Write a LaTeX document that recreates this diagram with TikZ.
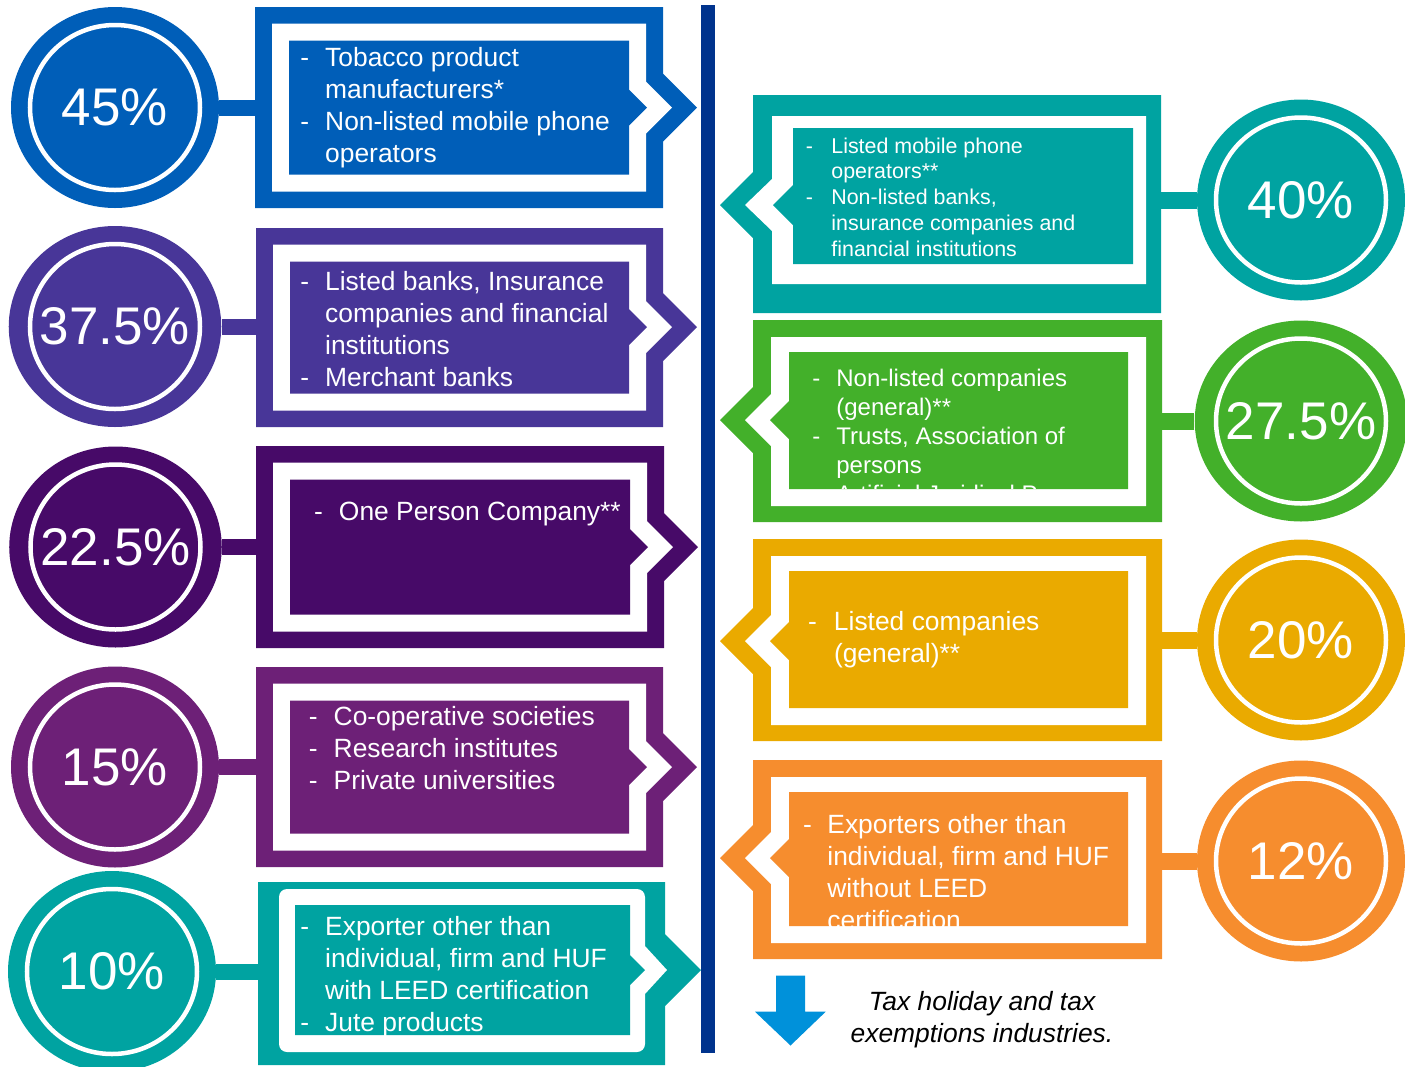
\documentclass[tikz,border=0pt]{standalone}
\usepackage{fontspec}
\setmainfont{Liberation Sans}
\usetikzlibrary{shapes.geometric}
\definecolor{kblue}{HTML}{005EB8}
\definecolor{kviolet}{HTML}{483698}
\definecolor{kpurple}{HTML}{470A68}
\definecolor{kmag}{HTML}{6D2077}
\definecolor{kteal}{HTML}{00A3A1}
\definecolor{kgreen}{HTML}{43B02A}
\definecolor{kyellow}{HTML}{EAAA00}
\definecolor{korange}{HTML}{F68D2E}
\definecolor{knavy}{HTML}{00338D}
\definecolor{klight}{HTML}{0091DA}
\tikzset{
  circ/.style={ellipse, fill=#1, minimum width=104pt, minimum height=100.5pt,
    inner sep=0pt, text=white, font=\fontsize{26.5}{30}\selectfont},
  ring/.style={draw=white, line width=2.25pt},
  bar/.style={draw=#1, line width=8pt},
  txt/.style={text=white, anchor=base west, inner sep=0pt,
    font=\fontsize{13.2}{16}\selectfont},
}
% left block: colour, L, T, R, B, chevron centre y
\newcommand\lblock[6]{%
  \fill[#1] (#2,#3) -- (#4,#3) -- (#4,#6-34) -- (#4+34,#6) -- (#4,#6+34) -- (#4,#5) -- (#2,#5) -- cycle;
  \fill[white] (#2+17,#3+16.5) -- (#4-17,#3+16.5) -- (#4-17,#6-26) -- (#4+9,#6) -- (#4-17,#6+26) -- (#4-17,#5-16.5) -- (#2+17,#5-16.5) -- cycle;
  \fill[#1] (#2+34,#3+33.5) -- (#4-34,#3+33.5) -- (#4-34,#6-18) -- (#4-16,#6) -- (#4-34,#6+18) -- (#4-34,#5-33.5) -- (#2+34,#5-33.5) -- cycle;
}
% right block: colour, L, T, R, B, chevron centre y
\newcommand\rblock[6]{%
  \fill[#1] (#2,#3) -- (#4,#3) -- (#4,#5) -- (#2,#5) -- (#2,#6+33) -- (#2-33,#6) -- (#2,#6-33) -- cycle;
  \fill[white] (#2+18,#3+17) -- (#4-16,#3+17) -- (#4-16,#5-16) -- (#2+18,#5-16) -- (#2+18,#6+26) -- (#2-8,#6) -- (#2+18,#6-26) -- cycle;
  \fill[#1] (#2+36,#3+32) -- (#4-34,#3+32) -- (#4-34,#5-33) -- (#2+36,#5-33) -- (#2+36,#6+19) -- (#2+17,#6) -- (#2+36,#6-19) -- cycle;
}
\newcommand\dashlist[2]{\begin{tabular}[t]{@{}p{#1}@{}l@{}}#2\end{tabular}}
\begin{document}
\begin{tikzpicture}[x=0.5pt,y=-0.5pt]
\useasboundingbox (0,0) rectangle (1405,1067);
\clip (0,0) rectangle (1405,1067);

% central line
\fill[knavy] (701,5) rectangle (715,1053);

% ---------- left blocks ----------
\lblock{kblue}{255}{7}{663}{208}{107.5}
\lblock{kviolet}{256}{228}{663}{427}{327}
\lblock{kpurple}{256}{446}{664}{648}{547}
\lblock{kmag}{256}{667}{663}{867}{767}
% block 5 (teal)
\fill[kteal] (258,882) -- (665,882) -- (665,934) -- (701,970) -- (665,1006) -- (665,1065) -- (258,1065) -- cycle;
\fill[white] (645,946) [rounded corners=4pt] -- (645,889) -- (279,889) -- (279,1052) -- (645,1052) [sharp corners] -- (645,994) -- (667,970) -- cycle;
\fill[kteal] (295,905) -- (630,905) -- (630,955) -- (645,970) -- (630,985) -- (630,1035) -- (295,1035) -- cycle;

% ---------- right blocks ----------
\fill[kteal] (753,95) -- (1161,95) -- (1161,313) -- (753,313) -- (753,238) -- (720,205) -- (753,172) -- cycle;
\fill[white] (772,116) -- (1146,116) -- (1146,284) -- (772,284) -- (772,231) -- (745,205) -- (772,179) -- cycle;
\fill[kteal] (793,128) -- (1133,128) -- (1133,264) -- (793,264) -- (793,225) -- (773,205) -- (793,185) -- cycle;
\rblock{kgreen}{753}{320}{1162}{522}{420}
\rblock{kyellow}{753}{539}{1162}{741}{641}
\rblock{korange}{753}{760}{1162}{959}{858}

% ---------- circles ----------
\node[circ=kblue]   (c1) at (115,107.5) {45\%};
\node[circ=kviolet] (c2) at (115,326.5) {37.5\%};
\node[circ=kpurple] (c3) at (115.5,547) {22.5\%};
\node[circ=kmag]    (c4) at (115,767) {15\%};
\node[circ=kteal]   (c5) at (112,971.5) {10\%};
\node[circ=kteal]   (r1) at (1301,200) {40\%};
\node[circ=kgreen]  (r2) at (1301,421) {27.5\%};
\node[circ=kyellow] (r3) at (1301,640) {20\%};
\node[circ=korange] (r4) at (1301,861) {12\%};
\foreach \n in {c1,c2,c3,c4,c5,r1,r2,r3,r4}
  \draw[ring] (\n.center) ellipse [x radius=42.5pt, y radius=41.25pt];

% ---------- connectors ----------
\coordinate (b1) at (257,107.5);
\coordinate (b2) at (258,326.5);
\coordinate (b3) at (258,547);
\coordinate (b4) at (258,767);
\coordinate (b5) at (260,971.5);
\coordinate (s1) at (1159,200);
\coordinate (s2) at (1160,421);
\coordinate (s3) at (1160,640);
\coordinate (s4) at (1160,861);
\draw[bar=kblue] (c1) -- (b1);
\draw[bar=kviolet] (c2) -- (b2);
\draw[bar=kpurple] (c3) -- (b3);
\draw[bar=kmag] (c4) -- (b4);
\draw[bar=kteal] (c5) -- (b5);
\draw[bar=kteal, line width=8.5pt] (r1) -- (s1);
\draw[bar=kgreen, line width=8.5pt] (r2) -- (s2);
\draw[bar=kyellow, line width=8.5pt] (r3) -- (s3);
\draw[bar=korange, line width=8.5pt] (r4) -- (s4);

% ---------- texts ----------
\node[txt] (t1) at (300,66.7) {\dashlist{12.4pt}{-&Tobacco product\\&manufacturers*\\-&Non-listed mobile phone\\&operators}};
\node[txt] (t2) at (300,290) {\dashlist{12.4pt}{-&Listed banks, Insurance\\&companies and financial\\&institutions\\-&Merchant banks}};
\node[txt] (t3) at (313.6,520) {\dashlist{12.5pt}{-&One Person Company**}};
\node[txt] (t4) at (308.5,725) {\dashlist{12.4pt}{-&Co-operative societies\\-&Research institutes\\-&Private universities}};
\begin{scope}
\clip (295,905) rectangle (630,1035);
\node[txt] (t5) at (300,935) {\dashlist{12.4pt}{-&Exporter other than\\&individual, firm and HUF\\&with LEED certification\\-&Jute products}};
\end{scope}
\node[txt, font=\fontsize{10.7}{12.9}\selectfont] (u1) at (805.4,153) {\dashlist{12.8pt}{-&Listed mobile phone\\&operators**\\-&Non-listed banks,\\&insurance companies and\\&financial institutions}};
\begin{scope}
\clip (789,352) rectangle (1128,488);
\node[txt, font=\fontsize{12}{14.5}\selectfont] (u2) at (812,386.5) {\dashlist{12pt}{-&Non-listed companies\\&(general)**\\-&Trusts, Association of\\&persons\\-&Artificial Juridical Person}};
\end{scope}
\node[txt] (u3) at (807.6,630) {\dashlist{13pt}{-&Listed companies\\&(general)**}};
\begin{scope}
\clip (789,792) rectangle (1128,928);
\node[txt] (u4) at (802.6,833) {\dashlist{12.2pt}{-&Exporters other than\\&individual, firm and HUF\\&without LEED\\&certification}};
\end{scope}

% ---------- legend ----------
\fill[klight] (776,975.7) -- (805,975.7) -- (805,1011.7) -- (825.7,1011.7) -- (790.5,1045.5) -- (755,1011.7) -- (776,1011.7) -- cycle;
\node[anchor=base, inner sep=0pt, font=\fontsize{13.2}{16}\selectfont\itshape] (note) at (982,1010)
  {\begin{tabular}[t]{@{}c@{}}Tax holiday and tax\\exemptions industries.\end{tabular}};
\end{tikzpicture}
\end{document}
